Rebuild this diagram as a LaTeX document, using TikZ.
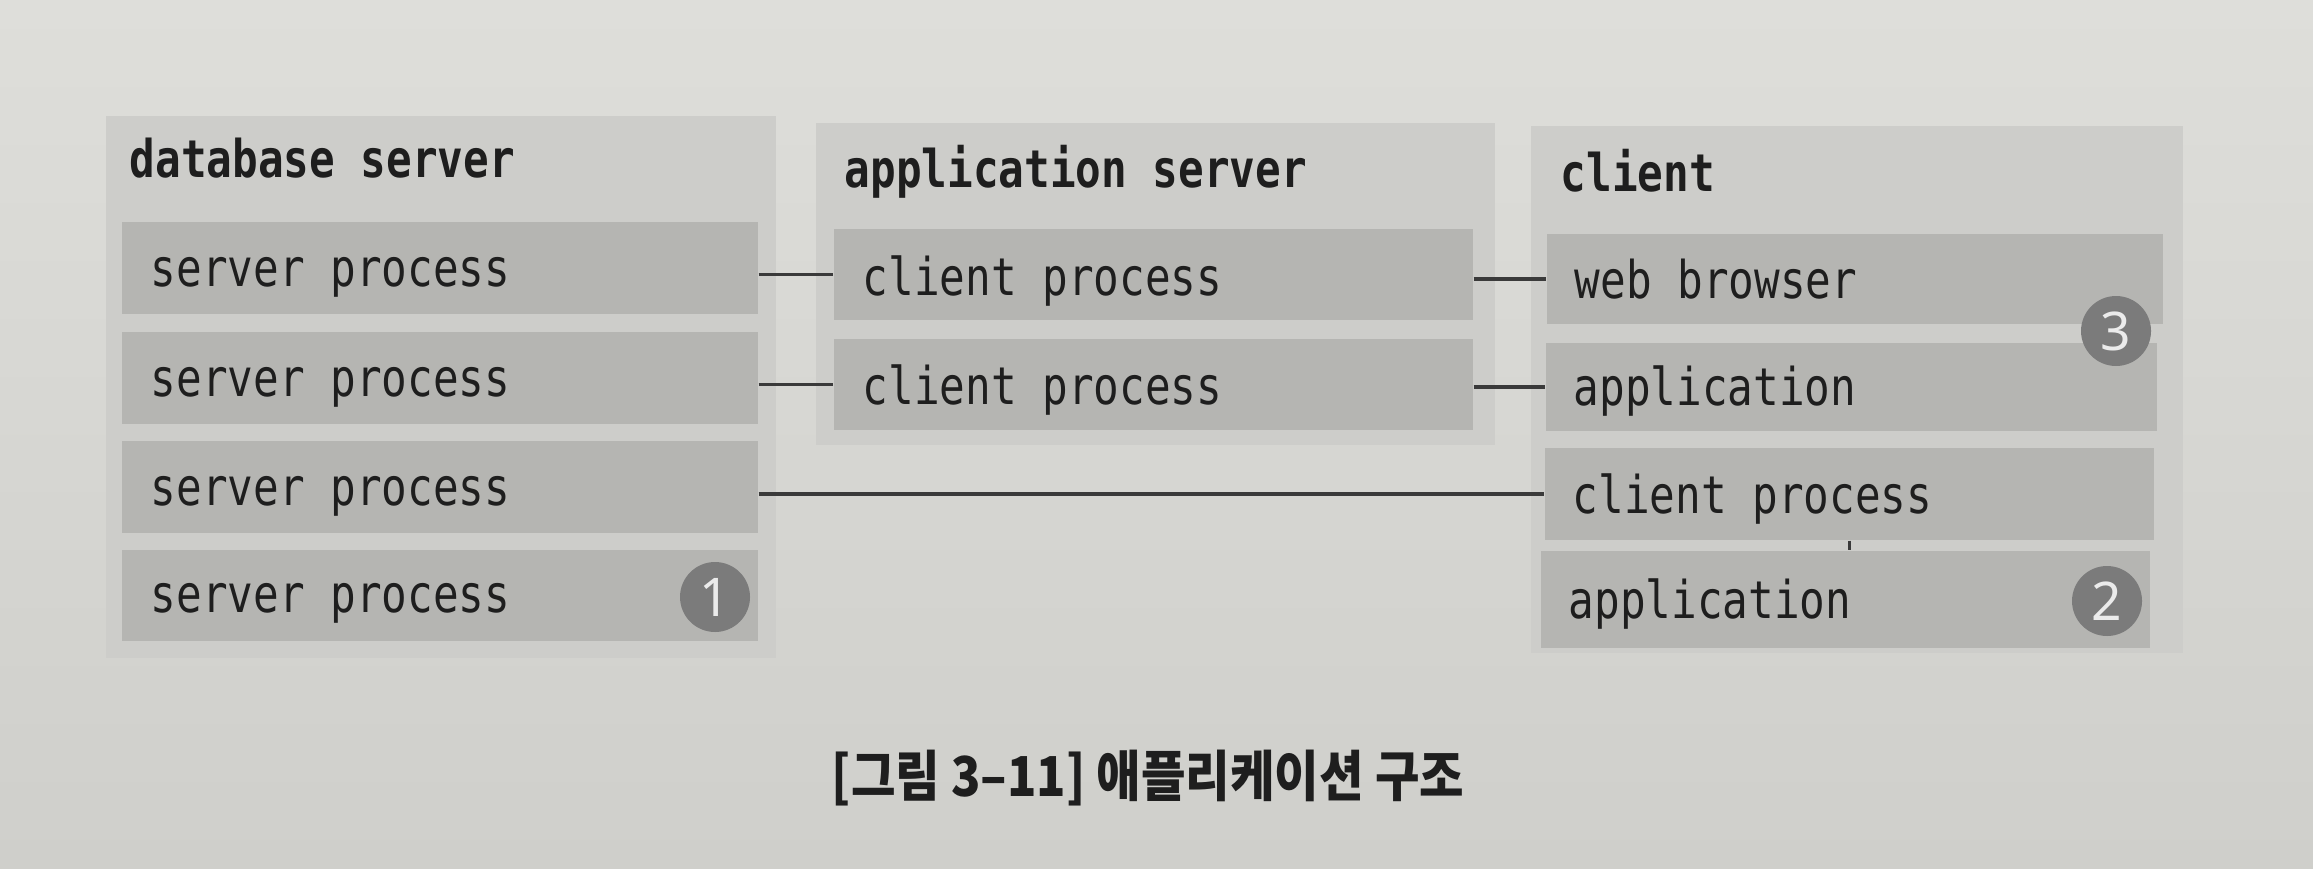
\documentclass[tikz,border=0pt]{standalone}
\usepackage{fontspec}
\newfontfamily\monofont[FakeStretch=0.82]{DejaVu Sans Mono}
\newfontfamily\cjkfont[FakeStretch=0.88]{Noto Sans CJK KR}
\newfontfamily\numfont{Noto Sans}
\usetikzlibrary{fit}
\definecolor{pagetop}{HTML}{DEDEDA}
\definecolor{pagebot}{HTML}{CFCFCB}
\definecolor{contc}{HTML}{CDCDCA}
\definecolor{boxc}{HTML}{B5B5B2}
\definecolor{badgec}{HTML}{7B7B7B}
\definecolor{wirec}{HTML}{3A3A3A}
\definecolor{txtc}{HTML}{1E1E1E}
\begin{document}
\begin{tikzpicture}[x=0.3pt,y=-0.3pt,
  cont/.style={fill=contc, draw=none, inner sep=0pt},
  ibox/.style={fill=boxc, draw=none, inner sep=0pt},
  lbl/.style={font=\monofont\fontsize{15.6}{18}\selectfont, text=txtc, inner sep=0pt, anchor=base west},
  hdr/.style={font=\monofont\bfseries\fontsize{15.6}{18}\selectfont, text=txtc, inner sep=0pt, anchor=base west},
  badge/.style={circle, fill=badgec, minimum size=21pt, inner sep=0pt, text=white!92!black, font=\numfont\fontsize{16}{18}\selectfont},
  wire/.style={draw=wirec, line width=1.05pt},
  capt/.style={font=\cjkfont\bfseries\fontsize{16.5}{18}\selectfont, text=txtc, inner sep=0pt}]
\useasboundingbox (0,0) rectangle (2313,868);
\shade[top color=pagetop, bottom color=pagebot] (0,0) rectangle (2313,868);

% containers
\node[cont, fit={(106,116)(776,658)}] (db) {};
\node[cont, fit={(816,123)(1495,445)}] (app) {};
\node[cont, fit={(1531,126)(2183,653)}] (cl) {};

% headers
\node[hdr] (dbh) at (129,177) {database server};
\node[hdr] (apph) at (844,187) {application server};
\node[hdr] (clh) at (1560,191) {client};

% database server boxes
\node[ibox, fit={(122,222)(758,314)}] (db1) {};
\node[ibox, fit={(122,332)(758,424)}] (db2) {};
\node[ibox, fit={(122,441)(758,533)}] (db3) {};
\node[ibox, fit={(122,550)(758,641)}] (db4) {};
\node[lbl] (db1t) at (150,286) {server process};
\node[lbl] (db2t) at (150,396) {server process};
\node[lbl] (db3t) at (150,505) {server process};
\node[lbl] (db4t) at (150,612) {server process};
\node[badge] (b1) at (715,597) {1};

% application server boxes
\node[ibox, fit={(834,229)(1473,320)}] (app1) {};
\node[ibox, fit={(834,339)(1473,430)}] (app2) {};
\node[lbl] (app1t) at (862,295) {client process};
\node[lbl] (app2t) at (862,404) {client process};

% client boxes
\node[ibox, fit={(1547,234)(2163,324)}] (cl1) {};
\node[ibox, fit={(1546,343)(2157,431)}] (cl2) {};
\node[ibox, fit={(1545,448)(2154,540)}] (cl3) {};
\node[ibox, fit={(1541,551)(2150,648)}] (cl4) {};
\node[lbl] (cl1t) at (1574,298) {web browser};
\node[lbl] (cl2t) at (1573,405) {application};
\node[lbl] (cl3t) at (1572,513) {client process};
\node[lbl] (cl4t) at (1568,618) {application};
\node[badge] (b3) at (2116,331) {3};
\node[badge] (b2) at (2107,601) {2};

% connectors
\draw[wire] (db1.east |- app1.west) -- (app1.west);
\draw[wire] (db2.east |- app2.west) -- (app2.west);
\draw[wire] (app1.east |- cl1.west) -- (cl1.west);
\draw[wire] (app2.east |- cl2.west) -- (cl2.west);
\draw[wire] (db3.east |- cl3.west) -- (cl3.west);
\draw[wire] (cl3.south) -- (cl3.south |- cl4.north);

% caption
\node[capt] (cap) at (1148,778) {[그림 3–11] 애플리케이션 구조};
\end{tikzpicture}
\end{document}
